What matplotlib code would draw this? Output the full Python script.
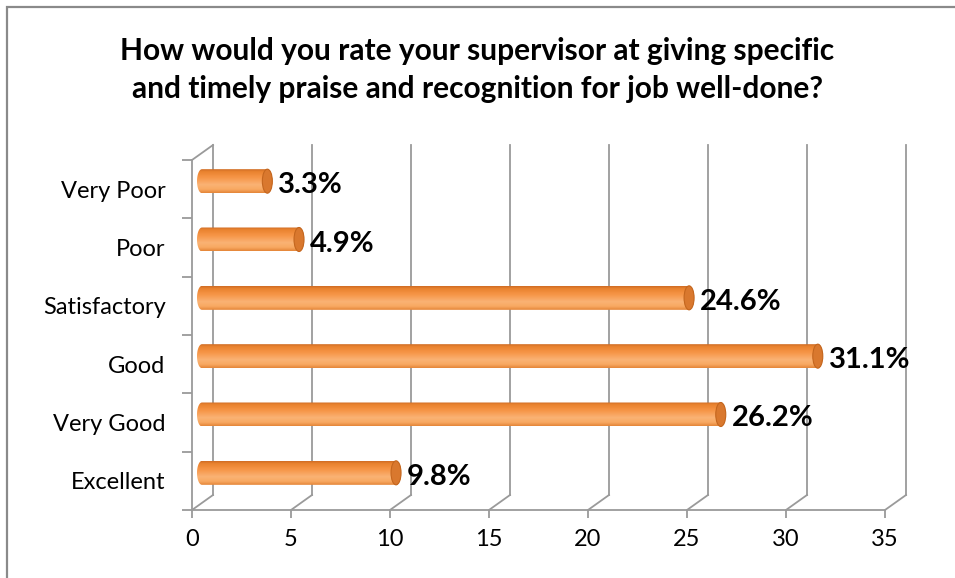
import numpy as np
import matplotlib.pyplot as plt
import matplotlib.patches as mpatches
from matplotlib.colors import LinearSegmentedColormap

plt.rcParams['font.family'] = ['Lato', 'DejaVu Sans']

# Du lieu
categories = ["Excellent", "Very Good", "Good", "Satisfactory", "Poor", "Very Poor"]
values = [9.8, 26.2, 31.1, 24.6, 4.9, 3.3]
x_ticks = [0, 5, 10, 15, 20, 25, 30, 35]
title = ("How would you rate your supervisor at giving specific\n"
         "and timely praise and recognition for job well-done?")

W, H = 955, 578
fig = plt.figure(figsize=(W / 100, H / 100), dpi=100)

# Khung vien
fig.patches.append(mpatches.Rectangle((7 / W, -0.05), 1.2, 1 - 7 / H + 0.05,
                                      transform=fig.transFigure, fill=False,
                                      edgecolor='#8a8a8a', lw=1.6))

# Mat phang truoc cua truc
left, right, bottom, top = 192, 885, 510, 160
ax = fig.add_axes([left / W, 1 - bottom / H, (right - left) / W, (bottom - top) / H])
ax.set_xlim(0, 35)
ax.set_ylim(-0.5, 5.5)
ppx = (right - left) / 35
ppy = (bottom - top) / 6

grid_c = '#9a9a9a'
dxb, dyb = 21 / ppx, 15 / ppy    # lech cua tuong sau
for x in x_ticks:
    ax.plot([x + dxb, x + dxb], [-0.5 + dyb, 5.5 + dyb], color=grid_c, lw=1.3, clip_on=False)
    ax.plot([x, x + dxb], [-0.5, -0.5 + dyb], color=grid_c, lw=1.3, clip_on=False)
ax.plot([0, dxb], [5.5, 5.5 + dyb], color=grid_c, lw=1.3, clip_on=False)

# Thanh hinh tru
cmap = LinearSegmentedColormap.from_list('cyl', [
    (0.0, '#E58638'), (0.15, '#F8A962'), (0.35, '#FAB274'),
    (0.65, '#F69547'), (0.9, '#EA832F'), (1.0, '#CF6C24')])
grad = np.linspace(0, 1, 64).reshape(-1, 1)
bx, by = 10 / ppx, 8 / ppy
hh = 12 / ppy
rx = 5 / ppx
t = np.linspace(0, np.pi, 40)
for i, v in enumerate(values):
    yc = i + by
    x0, x1 = bx, bx + v
    lpts = np.column_stack([x0 - rx * np.sin(t), yc + hh * np.cos(t)])
    rpts = np.column_stack([x1 + rx * np.sin(t), yc - hh * np.cos(t)])
    clip = mpatches.Polygon(np.vstack([lpts, rpts]), closed=True, transform=ax.transData)
    im = ax.imshow(grad, cmap=cmap, aspect='auto', extent=[x0 - rx, x1 + rx, yc + hh, yc - hh],
                   interpolation='bilinear', zorder=3)
    im.set_clip_path(clip)
    ax.add_patch(mpatches.Ellipse((x1, yc), 2 * rx, 2 * hh, facecolor='#D9782E',
                                  edgecolor='#C4661E', lw=0.8, zorder=4, clip_on=False))
    ax.annotate(f"{v}%", xy=(x1, yc), xytext=(11, -4), textcoords='offset pixels',
                va='center', ha='left', fontsize=21, fontweight='bold', color='black',
                annotation_clip=False)
ax.set_xlim(0, 35)
ax.set_ylim(-0.5, 5.5)
ax.set_aspect('auto')

# Truc
for s in ['top', 'right']:
    ax.spines[s].set_visible(False)
for s in ['left', 'bottom']:
    ax.spines[s].set_color(grid_c)
    ax.spines[s].set_linewidth(1.3)
ax.patch.set_alpha(0)

ax.set_xticks(x_ticks)
ax.set_xticklabels([str(x) for x in x_ticks])
ax.tick_params(axis='x', direction='out', length=6, width=1.3, color=grid_c,
               labelsize=17, pad=8)
ax.set_yticks(range(len(categories)))
ax.set_yticklabels(categories)
ax.tick_params(axis='y', which='major', length=0, labelsize=17, pad=19)
ax.set_yticks(np.arange(-0.5, 6, 1), minor=True)
ax.tick_params(axis='y', which='minor', direction='out', length=7, width=1.3, color=grid_c)

fig.text(0.5, 1 - 70 / H, title, ha='center', va='center', fontsize=21.5,
         fontweight='bold', linespacing=1.42)

fig.savefig("out.png", dpi=100)
